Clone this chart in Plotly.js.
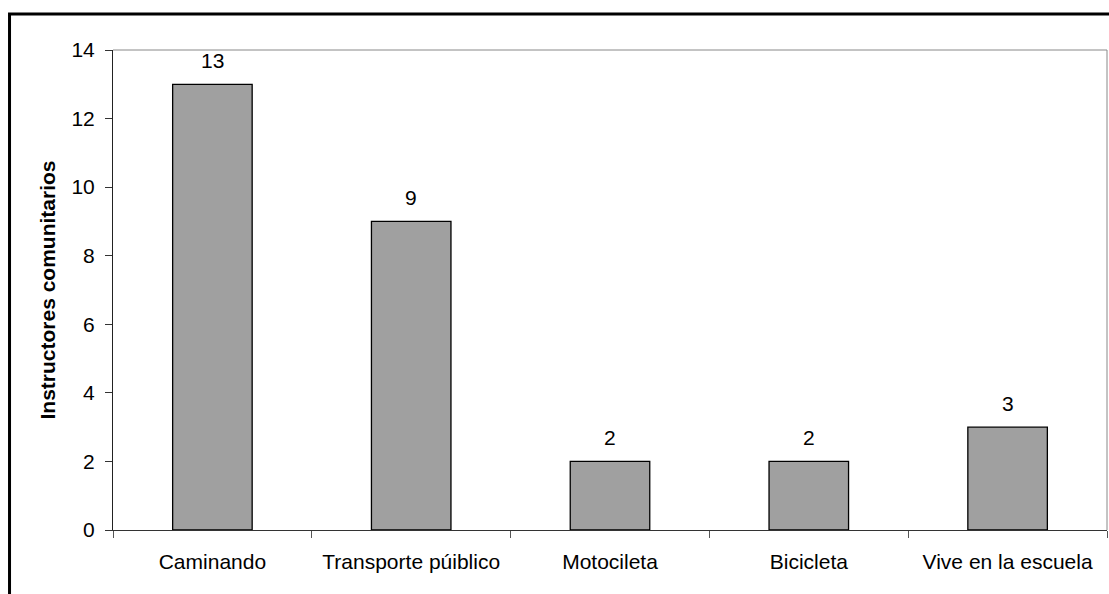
<!DOCTYPE html>
<html>
<head>
<meta charset="utf-8">
<script src="https://cdn.plot.ly/plotly-3.0.1.min.js"></script>
<style>html,body{margin:0;padding:0;background:#fff;}#chart{width:1109px;height:594px;}</style>
</head>
<body>
<div id="chart"></div>
<script>
const categories = ["Caminando", "Transporte púiblico", "Motocileta", "Bicicleta", "Vive en la escuela"];
const values = [13, 9, 2, 2, 3];
const yTicks = [0, 2, 4, 6, 8, 10, 12, 14];
const yTitle = "Instructores comunitarios";

const FONT = "Liberation Sans, Arial, sans-serif";

const trace = {
  type: "bar",
  x: categories,
  y: values,
  width: 0.4,
  marker: {color: "#a0a0a0", line: {color: "#000000", width: 1.3}},
  hoverinfo: "none"
};

const annotations = categories.map((c, i) => ({
  x: c, y: values[i], xref: "x", yref: "y",
  text: String(values[i]), showarrow: false,
  yanchor: "bottom", yshift: 10,
  font: {family: FONT, size: 21, color: "#000"}
}));

const layout = {
  width: 1109, height: 594,
  margin: {l: 113, r: 2, t: 50, b: 64},
  paper_bgcolor: "#fff", plot_bgcolor: "#fff",
  showlegend: false,
  xaxis: {
    type: "category",
    tickson: "boundaries",
    ticks: "outside", ticklen: 7, tickcolor: "#555",
    showline: true, linecolor: "#333", linewidth: 1,
    showgrid: false, zeroline: false,
    ticklabelstandoff: 13,
    tickfont: {family: FONT, size: 21, color: "#000"},
    range: [-0.5, 4.5]
  },
  yaxis: {
    range: [0, 14],
    tickvals: yTicks,
    ticktext: yTicks.map(String),
    ticks: "outside", ticklen: 7, tickcolor: "#333",
    showline: true, linecolor: "#222", linewidth: 1,
    showgrid: false, zeroline: false,
    ticklabelstandoff: 6,
    tickfont: {family: FONT, size: 21, color: "#000"},
    title: {text: yTitle, font: {family: FONT, size: 21, color: "#000", weight: "bold"}, standoff: 10}
  },
  annotations: annotations,
  shapes: [
    {type: "line", xref: "paper", yref: "paper", x0: 0, x1: 1, y0: 1, y1: 1, line: {color: "#888", width: 1}},
    {type: "line", xref: "paper", yref: "paper", x0: 1, x1: 1, y0: 0, y1: 1, line: {color: "#888", width: 1}},
    {type: "rect", xref: "paper", yref: "paper", x0: -0.1041, x1: 1.3, y0: -0.4, y1: 1.075, line: {color: "#000", width: 3}, layer: "below"}
  ]
};

Plotly.newPlot("chart", [trace], layout, {staticPlot: true, displayModeBar: false});
</script>
</body>
</html>
